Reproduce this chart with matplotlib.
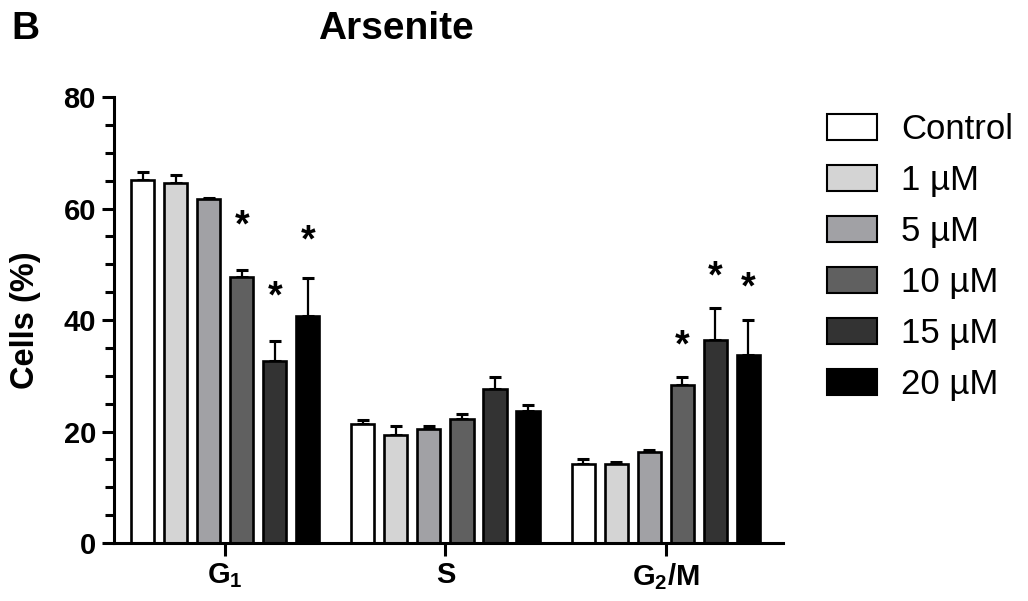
import matplotlib
matplotlib.use("Agg")
import matplotlib.pyplot as plt
from matplotlib.ticker import MultipleLocator
import numpy as np

plt.rcParams['font.family'] = ['Liberation Sans', 'DejaVu Sans']
plt.rcParams['mathtext.fontset'] = 'custom'
plt.rcParams['mathtext.rm'] = 'Liberation Sans:bold'
plt.rcParams['mathtext.bf'] = 'Liberation Sans:bold'

# data
phases = [r'$\mathbf{G_1}$', 'S', r'$\mathbf{G_2/M}$']
doses = ['Control', '1 µM', '5 µM', '10 µM', '15 µM', '20 µM']
colors = ['#ffffff', '#d4d4d4', '#a1a1a5', '#606060', '#333333', '#000000']
# mean per dose, ordered G1, S, G2/M
control = [65.2, 21.3, 14.2]
um1 = [64.5, 19.4, 14.1]
um5 = [61.7, 20.4, 16.4]
um10 = [47.7, 22.2, 28.3]
um15 = [32.7, 27.6, 36.5]
um20 = [40.8, 23.7, 33.7]
# SEM (upper only)
err_control = [1.4, 0.8, 0.9]
err_um1 = [1.5, 1.6, 0.5]
err_um5 = [0.2, 0.5, 0.2]
err_um10 = [1.3, 0.9, 1.4]
err_um15 = [3.5, 2.2, 5.6]
err_um20 = [6.7, 1.1, 6.3]
# significance stars: (phase index, dose index, y)
stars = [(0, 3, 58.3), (0, 4, 45.6), (0, 5, 55.6),
         (2, 3, 36.8), (2, 4, 49.3), (2, 5, 47.2)]

means = [control, um1, um5, um10, um15, um20]
errs = [err_control, err_um1, err_um5, err_um10, err_um15, err_um20]

fig = plt.figure(figsize=(10.28, 6.01), dpi=100)
ax = fig.add_axes([0.1109, 0.0965, 0.6508, 0.7421])

x = np.arange(len(phases))
step = 0.15
width = 0.105
for i, (m, e) in enumerate(zip(means, errs)):
    pos = x + (i - 2.5) * step
    ax.bar(pos, m, width, color=colors[i], edgecolor='black', linewidth=1.9,
           label=doses[i], zorder=2)
    ax.errorbar(pos, m, yerr=[np.zeros(len(e)), e], fmt='none', ecolor='black',
                elinewidth=1.6, capsize=4.5, capthick=2.2, zorder=1)

# asterisk glyph sits high in its box, so shift down a little
for p, d, y in stars:
    ax.text(x[p] + (d - 2.5) * step, y - 1.6, '*', ha='center', va='center',
            fontsize=27, fontweight='bold')

ax.set_xlim(-0.505, 2.533)
ax.set_ylim(0, 80)
ax.spines['top'].set_visible(False)
ax.spines['right'].set_visible(False)
for s in ['left', 'bottom']:
    ax.spines[s].set_linewidth(2.2)

ax.yaxis.set_major_locator(MultipleLocator(20))
ax.yaxis.set_minor_locator(MultipleLocator(5))
ax.set_xticks(x)
ax.set_xticklabels(phases)
ax.tick_params(axis='both', which='major', length=9, width=2.2,
               labelsize=21, pad=4)
ax.tick_params(axis='y', which='minor', length=6.5, width=2.2)
for lab in ax.get_xticklabels() + ax.get_yticklabels():
    lab.set_fontweight('bold')

ax.set_ylabel('Cells (%)', fontsize=23.5, fontweight='bold', labelpad=16)

fig.text(0.309, 0.951, 'Arsenite', fontsize=28, fontweight='bold',
         ha='left', va='center')
fig.text(0.011, 0.951, 'B', fontsize=28, fontweight='bold',
         ha='left', va='center')

leg = ax.legend(loc='upper left', bbox_to_anchor=(0.804, 0.812),
                bbox_transform=fig.transFigure, frameon=False, fontsize=25,
                handlelength=1.45, handleheight=0.75, handletextpad=0.7,
                labelspacing=0.52, borderpad=0, borderaxespad=0)
for h in leg.legend_handles:
    h.set_linewidth(1.5)

fig.savefig('out.png', dpi=100)
